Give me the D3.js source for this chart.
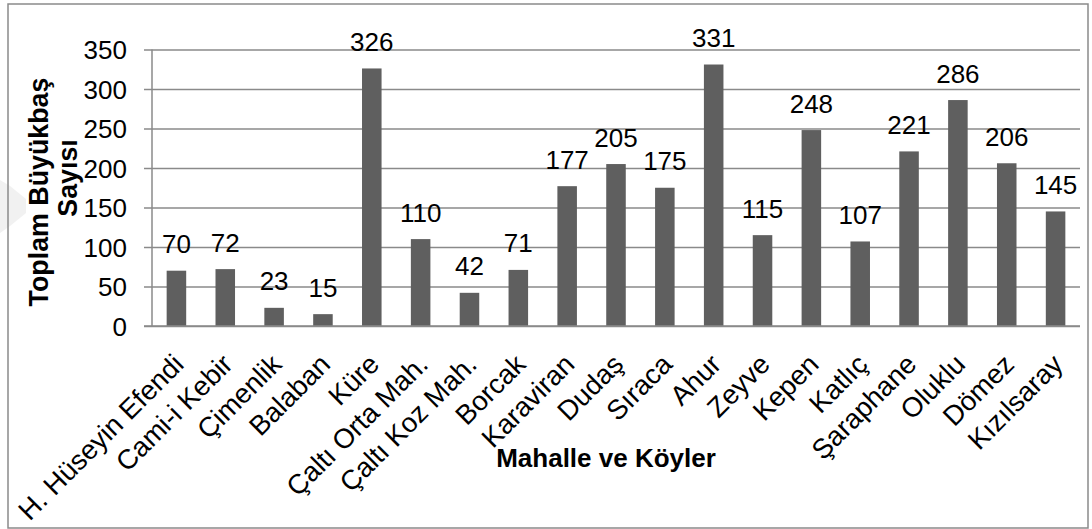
<!DOCTYPE html>
<html>
<head>
<meta charset="utf-8">
<script src="https://cdn.jsdelivr.net/npm/d3@7"></script>
<style>
  html, body { margin: 0; padding: 0; background: #fff; }
  svg { display: block; font-family: "Liberation Sans", Arial, sans-serif; }
</style>
</head>
<body>
<svg id="chart" width="1092" height="529"></svg>
<script>
const categories = ["H. Hüseyin Efendi", "Cami-i Kebir", "Çimenlik", "Balaban", "Küre",
  "Çaltı Orta Mah.", "Çaltı Koz Mah.", "Borcak", "Karaviran", "Dudaş", "Sıraca", "Ahur",
  "Zeyve", "Kepen", "Katlıç", "Şaraphane", "Oluklu", "Dömez", "Kızılsaray"];
const values = [70, 72, 23, 15, 326, 110, 42, 71, 177, 205, 175, 331, 115, 248, 107, 221, 286, 206, 145];
const yTicks = [0, 50, 100, 150, 200, 250, 300, 350];
const yTitleLines = ["Toplam Büyükbaş", "Sayısı"];
const xTitle = "Mahalle ve Köyler";

const svg = d3.select("#chart");
const plot = { left: 152, right: 1080, top: 49.5, bottom: 326 };
const gridColor = "#8a8a8a";
const barColor = "#5f5f5f";

// faint watermark fragment at the left edge
svg.append("path")
  .attr("d", "M0,180 L10,186 L26,199 L26,213 L10,226 L0,233 Z")
  .attr("fill", "#f1f1f1");

// outer border
svg.append("rect")
  .attr("x", 8).attr("y", 4).attr("width", 1080).attr("height", 524)
  .attr("fill", "none").attr("stroke", gridColor).attr("stroke-width", 1.5);

const xb = d3.scaleBand().domain(categories).range([plot.left, plot.right]);
const y = d3.scaleLinear().domain([0, 350]).range([plot.bottom, plot.top]);

// gridlines + y axis
const yAxis = d3.axisLeft(y).tickValues(yTicks).tickSize(-(plot.right - plot.left)).tickPadding(0).tickFormat(d3.format("d"));
const gy = svg.append("g").attr("transform", `translate(${plot.left},0)`).call(yAxis);
gy.select(".domain").remove();
gy.selectAll(".tick line").attr("x1", -8).attr("stroke", gridColor).attr("stroke-width", 1.5);
gy.selectAll(".tick text")
  .attr("x", -25).attr("dy", "0.35em")
  .attr("font-size", 26).attr("fill", "#000")
  .attr("font-family", "'Liberation Sans', Arial, sans-serif");

// y axis line
svg.append("line")
  .attr("x1", plot.left).attr("x2", plot.left)
  .attr("y1", plot.top).attr("y2", plot.bottom)
  .attr("stroke", gridColor).attr("stroke-width", 1.5);

// bars
svg.append("g").selectAll("rect").data(values).join("rect")
  .attr("x", (d, i) => xb(categories[i]) + xb.bandwidth() * 0.3)
  .attr("width", xb.bandwidth() * 0.4)
  .attr("y", d => y(d))
  .attr("height", d => y(0) - y(d))
  .attr("fill", barColor);

// x axis line
svg.append("line")
  .attr("x1", plot.left - 8).attr("x2", plot.right)
  .attr("y1", plot.bottom).attr("y2", plot.bottom)
  .attr("stroke", gridColor).attr("stroke-width", 1.5);

// value labels
svg.append("g").selectAll("text").data(values).join("text")
  .attr("x", (d, i) => xb(categories[i]) + xb.bandwidth() / 2)
  .attr("y", d => y(d) - 17.5)
  .attr("text-anchor", "middle")
  .attr("font-size", 26).attr("fill", "#000")
  .text(d => d);

// x category labels
svg.append("g").selectAll("text").data(categories).join("text")
  .attr("transform", d => `translate(${xb(d) + xb.bandwidth() / 2 + 9},366) rotate(-45)`)
  .attr("text-anchor", "end")
  .attr("font-size", 27.5).attr("fill", "#000")
  .text(d => d);

// x title
svg.append("text")
  .attr("x", 606).attr("y", 467)
  .attr("text-anchor", "middle")
  .attr("font-size", 26).attr("font-weight", "bold").attr("fill", "#000")
  .text(xTitle);

// y title (two lines)
svg.append("text")
  .attr("font-size", 26.8).attr("font-weight", "bold").attr("fill", "#000")
  .attr("text-anchor", "middle")
  .attr("transform", "translate(48,192) rotate(-90)")
  .text(yTitleLines[0]);
svg.append("text")
  .attr("font-size", 26.8).attr("font-weight", "bold").attr("fill", "#000")
  .attr("text-anchor", "middle")
  .attr("transform", "translate(77,178) rotate(-90)")
  .text(yTitleLines[1]);
</script>
</body>
</html>
